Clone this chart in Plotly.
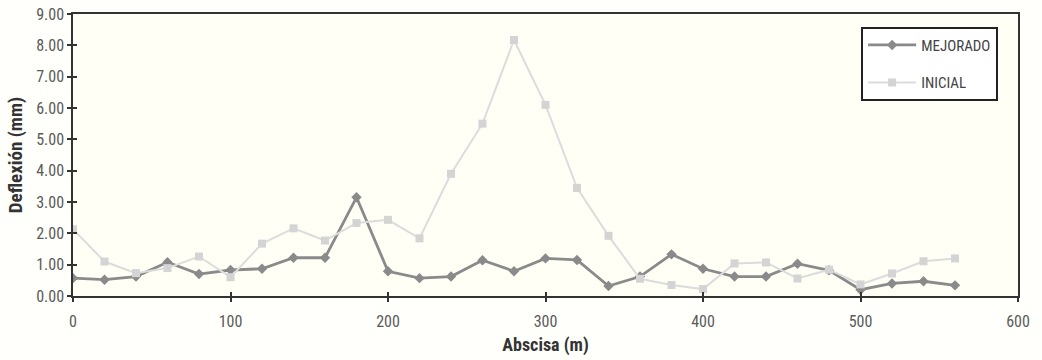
import plotly.graph_objects as go

abscisa = [0, 20, 40, 60, 80, 100, 120, 140, 160, 180, 200, 220, 240, 260, 280,
           300, 320, 340, 360, 380, 400, 420, 440, 460, 480, 500, 520, 540, 560]
mejorado = [0.57, 0.52, 0.62, 1.08, 0.70, 0.83, 0.87, 1.22, 1.22, 3.15, 0.79, 0.57, 0.62, 1.14, 0.79,
            1.20, 1.15, 0.32, 0.62, 1.33, 0.87, 0.62, 0.62, 1.03, 0.82, 0.20, 0.40, 0.47, 0.34]
inicial = [2.13, 1.10, 0.73, 0.89, 1.26, 0.60, 1.67, 2.16, 1.77, 2.33, 2.43, 1.84, 3.90, 5.50, 8.17,
           6.10, 3.45, 1.92, 0.55, 0.35, 0.22, 1.04, 1.07, 0.56, 0.84, 0.37, 0.72, 1.11, 1.20]

x_ticks = [0, 100, 200, 300, 400, 500, 600]
y_ticks = [0, 1, 2, 3, 4, 5, 6, 7, 8, 9]

FONT = "Liberation Sans Narrow, Roboto Condensed, Arial Narrow, Liberation Sans, Arial, sans-serif"

fig = go.Figure()
fig.add_trace(go.Scatter(
    x=abscisa, y=mejorado, name="MEJORADO", mode="lines+markers", legendgroup="a",
    line=dict(color="#8a8a8a", width=2.8),
    marker=dict(symbol="diamond", size=8, color="#8a8a8a"),
))
fig.add_trace(go.Scatter(
    x=abscisa, y=inicial, name="INICIAL", mode="lines+markers", legendgroup="b",
    line=dict(color="#dcdcdc", width=2),
    marker=dict(symbol="square", size=8, color="#d4d4d4"),
))
# empty trace so the overlay axes (inner half of the crossing ticks) are drawn
fig.add_trace(go.Scatter(x=[], y=[], xaxis="x2", yaxis="y2", showlegend=False,
                         hoverinfo="skip"))

fig.update_layout(
    width=1042, height=360,
    margin=dict(l=73, r=24, t=14, b=64),
    paper_bgcolor="#fffffb",
    plot_bgcolor="#fffff5",
    font=dict(family=FONT, size=16, color="#5a5a5a"),
    showlegend=True,
    legend=dict(
        x=0.834, y=0.955, xanchor="left", yanchor="top",
        bgcolor="#ffffff", bordercolor="#222222", borderwidth=2,
        font=dict(family=FONT, size=15, color="#444444"),
        traceorder="grouped", tracegroupgap=15, itemwidth=48,
    ),
    xaxis=dict(
        range=[0, 600], tickvals=x_ticks, ticktext=[str(v) for v in x_ticks],
        showgrid=False, zeroline=False, automargin=False,
        showline=True, linecolor="#333333", linewidth=1.5, mirror=True,
        ticks="outside", ticklen=4, tickwidth=1.5, tickcolor="#333333",
        ticklabelstandoff=6,
        tickfont=dict(size=16, color="#5a5a5a"),
        title=dict(text="Abscisa (m)", standoff=8,
                   font=dict(family=FONT, size=18, color="#333333", weight="bold")),
    ),
    yaxis=dict(
        range=[0, 9], tickvals=y_ticks, tickformat=".2f",
        showgrid=False, zeroline=False, automargin=False,
        showline=True, linecolor="#333333", linewidth=1.5, mirror=True,
        ticks="outside", ticklen=4, tickwidth=1.5, tickcolor="#333333",
        tickfont=dict(size=16, color="#5a5a5a"),
        title=dict(text="Deflexión (mm)", standoff=8,
                   font=dict(family=FONT, size=19, color="#333333", weight="bold")),
    ),
    xaxis2=dict(
        overlaying="x", range=[0, 600], tickvals=x_ticks, showticklabels=False,
        showgrid=False, zeroline=False, showline=False, automargin=False,
        ticks="inside", ticklen=4, tickwidth=1.5, tickcolor="#333333", side="bottom",
    ),
    yaxis2=dict(
        overlaying="y", range=[0, 9], tickvals=y_ticks, showticklabels=False,
        showgrid=False, zeroline=False, showline=False, automargin=False,
        ticks="inside", ticklen=4, tickwidth=1.5, tickcolor="#333333", side="left",
    ),
)

fig.write_html("out.html", config={"displayModeBar": False})

# remove the browser's default 8px body margin so the figure fills the window
with open("out.html", encoding="utf-8") as f:
    html = f.read()
html = html.replace("<head>", "<head><style>html,body{margin:0;padding:0;overflow:hidden;}</style>", 1)
with open("out.html", "w", encoding="utf-8") as f:
    f.write(html)
